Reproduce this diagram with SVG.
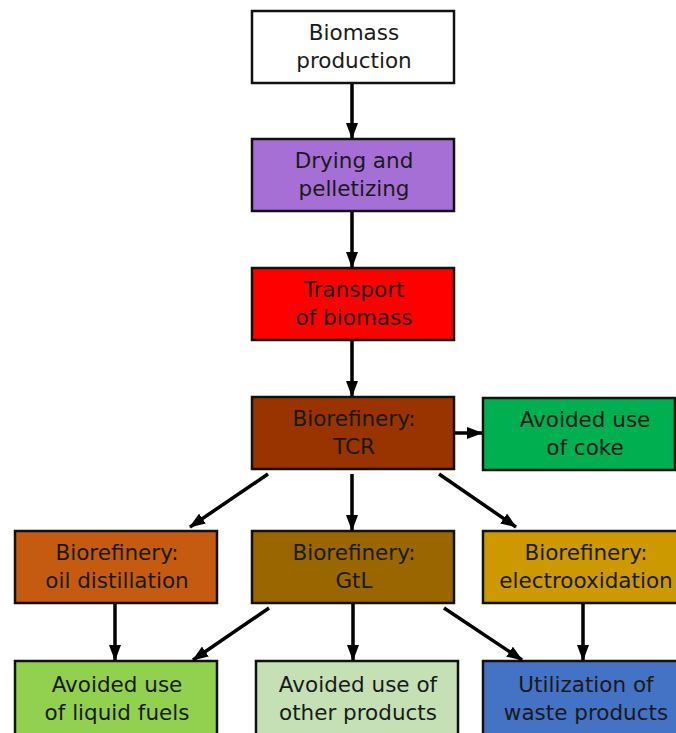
<svg xmlns="http://www.w3.org/2000/svg" width="676" height="733" viewBox="0 0 676 733">
<defs>
<marker id="ah" markerWidth="16" markerHeight="12" refX="15" refY="6" orient="auto" markerUnits="userSpaceOnUse">
<path d="M0,0 L16,6 L0,12 Z" fill="#000"/>
</marker>
<style>
.box{stroke:#111;stroke-width:2.5}
.t{font-family:"DejaVu Sans",Verdana,sans-serif;font-size:21.5px;fill:#1a1a1a;text-anchor:middle}
.c line{stroke:#000;stroke-width:3.5;marker-end:url(#ah)}
</style>
</defs>
<rect width="676" height="733" fill="#fff"/>
<g id="n1"><rect class="box" x="252" y="11" width="202" height="72" fill="#fff"/><text class="t" x="354" y="40">Biomass</text><text class="t" x="354" y="68">production</text></g>
<g id="n2"><rect class="box" x="252" y="139" width="202" height="72" fill="#a66fd5"/><text class="t" x="354" y="168">Drying and</text><text class="t" x="354" y="196">pelletizing</text></g>
<g id="n3"><rect class="box" x="252" y="268" width="202" height="72" fill="#ff0000"/><text class="t" x="354" y="297">Transport</text><text class="t" x="354" y="325">of biomass</text></g>
<g id="n4"><rect class="box" x="252" y="397" width="202" height="72" fill="#993300"/><text class="t" x="354" y="426">Biorefinery:</text><text class="t" x="354" y="454">TCR</text></g>
<g id="n5"><rect class="box" x="483" y="398" width="192" height="72" fill="#00b050"/><text class="t" x="585" y="427">Avoided use</text><text class="t" x="585" y="455">of coke</text></g>
<g id="n6"><rect class="box" x="15" y="531" width="202" height="72" fill="#c55a11"/><text class="t" x="117" y="560">Biorefinery:</text><text class="t" x="117" y="588">oil distillation</text></g>
<g id="n7"><rect class="box" x="252" y="531" width="202" height="72" fill="#996600"/><text class="t" x="354" y="560">Biorefinery:</text><text class="t" x="354" y="588">GtL</text></g>
<g id="n8"><rect class="box" x="483" y="531" width="210" height="72" fill="#cc9900"/><text class="t" x="586" y="560">Biorefinery:</text><text class="t" x="586" y="588">electrooxidation</text></g>
<g id="n9"><rect class="box" x="15" y="661" width="202" height="80" fill="#92d050"/><text class="t" x="117" y="692">Avoided use</text><text class="t" x="117" y="720">of liquid fuels</text></g>
<g id="n10"><rect class="box" x="256" y="661" width="202" height="80" fill="#c5e0b4"/><text class="t" x="358" y="692">Avoided use of</text><text class="t" x="358" y="720">other products</text></g>
<g id="n11"><rect class="box" x="483" y="661" width="210" height="80" fill="#4472c4"/><text class="t" x="586" y="692">Utilization of</text><text class="t" x="586" y="720">waste products</text></g>
<g id="connectors" class="c">
<line x1="352" y1="84" x2="352" y2="138"/>
<line x1="352" y1="212" x2="352" y2="267"/>
<line x1="352" y1="341" x2="352" y2="396"/>
<line x1="455" y1="433" x2="482" y2="433"/>
<line x1="268" y1="474" x2="190" y2="527"/>
<line x1="352" y1="474" x2="352" y2="530"/>
<line x1="439" y1="474" x2="516" y2="527"/>
<line x1="115" y1="604" x2="115" y2="660"/>
<line x1="269" y1="608" x2="193" y2="660"/>
<line x1="353" y1="604" x2="353" y2="660"/>
<line x1="444" y1="608" x2="522" y2="660"/>
<line x1="583" y1="604" x2="583" y2="660"/>
</g>
</svg>
